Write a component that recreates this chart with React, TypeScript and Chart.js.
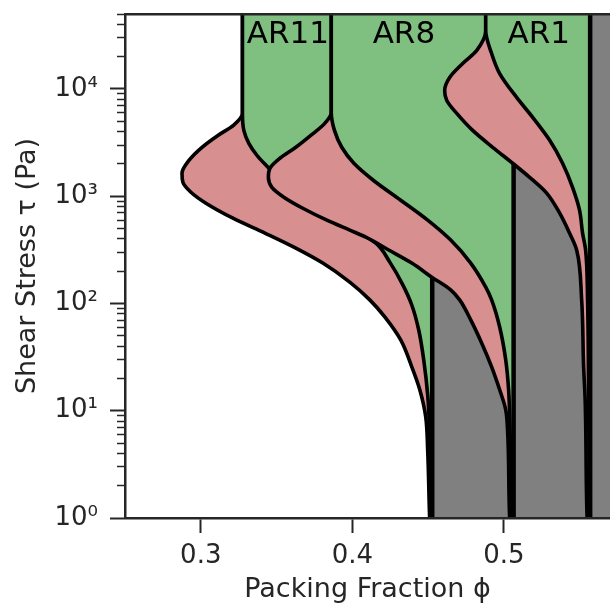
import React, { useEffect, useRef } from "react";
import { Chart, registerables } from "chart.js";

Chart.register(...registerables);

// ---- axis ranges and ticks ----
const X_MIN = 0.25;
const X_MAX = 0.57;
const Y_MIN = 1;
const Y_MAX = 5e4;
const X_TICKS = [0.3, 0.4, 0.5];
const X_TICK_LABELS = ["0.3", "0.4", "0.5"];
const Y_TICKS = [1, 10, 100, 1000, 10000];
const Y_TICK_LABELS = ["10\u2070", "10\u00b9", "10\u00b2", "10\u00b3", "10\u2074"];
const Y_MINOR_TICKS = [
  2, 3, 4, 5, 6, 7, 8, 9,
  20, 30, 40, 50, 60, 70, 80, 90,
  200, 300, 400, 500, 600, 700, 800, 900,
  2000, 3000, 4000, 5000, 6000, 7000, 8000, 9000,
  20000, 30000, 40000, 50000,
];
const X_TITLE = "Packing Fraction \u03d5";
const Y_TITLE = "Shear Stress \u03c4 (Pa)";

// ---- series names ----
const AR_NAMES = ["AR11", "AR8", "AR1"];
const AR_LABEL_PHI = [0.3575, 0.434, 0.523];
const AR_LABEL_TAU = 3.2e4;

// jamming fraction (isotropic jamming boundary) per series
const PHI_JAM = [0.4527, 0.5064, 0.5569];
const TAU_HIGH = 1e5;
const TAU_LOW = 0.3;

// lower boundary of thickening band: [phi, tau], from high to low stress
const AR11_LOWER: [number, number][] = [
  [0.3275, 1e5], [0.3275, 5900], [0.3215, 4580], [0.3113, 3690], [0.3008, 2860],
  [0.2922, 2160], [0.2876, 1640], [0.2882, 1350], [0.2935, 1090], [0.3034, 861],
  [0.3212, 624], [0.3423, 453], [0.3627, 328], [0.3805, 238], [0.3983, 158],
  [0.4115, 108], [0.4214, 74.9], [0.4319, 45.7], [0.4392, 25.7], [0.4445, 15.7],
  [0.4484, 8.8], [0.4497, 4.3], [0.451, 1.0], [0.4527, 0.3],
];
// upper boundary (shear jamming line)
const AR11_UPPER: [number, number][] = [
  [0.3275, 1e5], [0.3275, 5900], [0.3284, 4110], [0.3317, 3110], [0.337, 2410],
  [0.3443, 1860], [0.3555, 1265], [0.3687, 918], [0.3852, 665], [0.4016, 483],
  [0.4155, 365], [0.4247, 243], [0.4333, 149], [0.4392, 96.8], [0.4438, 56.6],
  [0.4471, 29.8], [0.4497, 14.1], [0.451, 6.65], [0.4517, 2.83], [0.4524, 1.0],
  [0.4527, 0.3],
];

const AR8_LOWER: [number, number][] = [
  [0.3861, 1e5], [0.3861, 6040], [0.3818, 4780], [0.3726, 3690], [0.3627, 2860],
  [0.3522, 2260], [0.3456, 1820], [0.3446, 1500], [0.3469, 1210], [0.3548, 980],
  [0.3673, 773], [0.3832, 598], [0.3983, 483], [0.4089, 416], [0.424, 315],
  [0.4392, 238], [0.4524, 176], [0.4649, 134], [0.4708, 108], [0.4781, 70.3],
  [0.4853, 42.9], [0.4919, 25.7], [0.4972, 15.7], [0.5012, 10.2], [0.5025, 6.2],
  [0.5038, 1.0], [0.5064, 0.3],
];
const AR8_UPPER: [number, number][] = [
  [0.3861, 1e5], [0.3861, 6040], [0.3882, 4110], [0.393, 2860], [0.401, 2030],
  [0.4138, 1410], [0.4319, 918], [0.4497, 598], [0.4649, 390], [0.4781, 238],
  [0.488, 142], [0.4919, 108], [0.4972, 60.4], [0.5012, 29.8], [0.5031, 15.7],
  [0.5041, 6.2], [0.5051, 1.0], [0.5064, 0.3],
];

const AR1_LOWER: [number, number][] = [
  [0.488, 1e5], [0.488, 35000], [0.482, 22800], [0.4728, 17300], [0.4642, 12800],
  [0.4609, 9680], [0.4623, 7820], [0.4689, 5920], [0.4794, 4110], [0.4926, 2860],
  [0.5058, 2030], [0.517, 1500], [0.5282, 1070], [0.5368, 695], [0.5433, 453],
  [0.548, 315], [0.5513, 108], [0.5526, 25.7], [0.5536, 12.7], [0.5549, 1.0],
  [0.5569, 0.3],
];
const AR1_UPPER: [number, number][] = [
  [0.488, 1e5], [0.488, 35000], [0.4919, 21400], [0.4972, 13900], [0.5084, 8340],
  [0.519, 5430], [0.5302, 3320], [0.5387, 2030], [0.5453, 1210], [0.5499, 741],
  [0.5519, 453], [0.5539, 315], [0.5552, 108], [0.5559, 12.7], [0.5565, 1.0],
  [0.5569, 0.3],
];

const LOWERS = [AR11_LOWER, AR8_LOWER, AR1_LOWER];
const UPPERS = [AR11_UPPER, AR8_UPPER, AR1_UPPER];

// ---- styles ----
const PINK = "rgb(216,143,143)";
const GREEN = "rgb(127,191,127)";
const GRAY = "rgb(128,128,128)";
const INK = "#262626";
const FONT_FAMILY = "'DejaVu Sans', 'Liberation Sans', sans-serif";

const toPts = (arr: [number, number][]) => arr.map(([x, y]) => ({ x, y }));

function buildDatasets() {
  const seq: any[] = [];
  LOWERS.forEach((lower, k) => {
    const base = k * 3;
    const common = {
      xAxisID: "x",
      yAxisID: "y",
      pointRadius: 0,
      pointHoverRadius: 0,
      borderColor: "#000",
      clip: 0,
      cubicInterpolationMode: "monotone",
    };
    // thickening band: lower curve filled up to upper curve
    seq.push({
      ...common,
      label: AR_NAMES[k] + " lower",
      data: toPts(lower),
      backgroundColor: PINK,
      borderWidth: 3.6,
      fill: { target: base + 1 },
    });
    // shear jammed: upper curve filled to jamming line
    seq.push({
      ...common,
      label: AR_NAMES[k] + " upper",
      data: toPts(UPPERS[k]),
      backgroundColor: GREEN,
      borderWidth: 3.6,
      fill: { target: base + 2 },
    });
    // isotropically jammed: beyond jamming fraction
    seq.push({
      ...common,
      cubicInterpolationMode: "default",
      tension: 0,
      label: AR_NAMES[k] + " jam",
      data: [
        { x: PHI_JAM[k], y: TAU_HIGH },
        { x: PHI_JAM[k], y: TAU_LOW },
      ],
      backgroundColor: GRAY,
      borderWidth: 4.5,
      fill: { value: X_MAX },
    });
  });
  const n = seq.length;
  return seq.map((d, i) => ({ ...d, order: n - i }));
}

const arLabelPlugin = {
  id: "arLabels",
  afterDatasetsDraw(chart: any) {
    const { ctx, scales } = chart;
    const x = scales.x;
    const y = scales.y;
    ctx.save();
    ctx.font = `31px ${FONT_FAMILY}`;
    ctx.fillStyle = "#000";
    ctx.textAlign = "center";
    ctx.textBaseline = "middle";
    AR_NAMES.forEach((name, i) => {
      ctx.fillText(name, x.getPixelForValue(AR_LABEL_PHI[i]), y.getPixelForValue(AR_LABEL_TAU));
    });
    ctx.restore();
  },
};

export default function App() {
  const ref = useRef<HTMLCanvasElement>(null);
  useEffect(() => {
    if (!ref.current) return;
    Chart.defaults.font.family = FONT_FAMILY;
    const tickFont = { family: FONT_FAMILY, size: 26 };
    const titleFont = { family: FONT_FAMILY, size: 27 };
    const chart = new Chart(ref.current, {
      type: "line",
      data: { datasets: buildDatasets() as any },
      plugins: [arLabelPlugin],
      options: {
        animation: false,
        responsive: true,
        maintainAspectRatio: false,
        indexAxis: "y",
        events: [],
        layout: { padding: { top: 14, left: 0, right: 0, bottom: 0 } },
        plugins: {
          legend: { display: false },
          tooltip: { enabled: false },
          filler: { drawTime: "beforeDatasetDraw", propagate: false },
        },
        scales: {
          x: {
            type: "linear",
            position: "bottom",
            min: X_MIN,
            max: X_MAX,
            afterBuildTicks: (s: any) => {
              s.ticks = X_TICKS.map((v) => ({ value: v }));
            },
            afterFit: (s: any) => {
              s.height = 88;
              s.paddingLeft = 0;
              s.paddingRight = 0;
            },
            ticks: {
              callback: (_v: any, i: number) => X_TICK_LABELS[i],
              font: tickFont,
              color: INK,
              padding: 8,
              maxRotation: 0,
              autoSkip: false,
            },
            grid: {
              drawOnChartArea: false,
              drawTicks: true,
              tickLength: 15,
              tickWidth: 2,
              tickColor: INK,
            },
            border: { display: true, width: 2.5, color: INK, z: 1 },
            title: {
              display: true,
              text: X_TITLE,
              font: titleFont,
              color: INK,
              padding: { top: 0, bottom: 0 },
            },
          },
          xTop: {
            type: "linear",
            position: "top",
            min: X_MIN,
            max: X_MAX,
            afterFit: (s: any) => {
              s.height = 0;
              s.paddingLeft = 0;
              s.paddingRight = 0;
            },
            ticks: { display: false },
            grid: { display: false, drawTicks: false },
            border: { display: true, width: 2.5, color: INK, z: 1 },
          },
          y: {
            type: "logarithmic",
            position: "left",
            weight: 2,
            min: Y_MIN,
            max: Y_MAX,
            afterBuildTicks: (s: any) => {
              s.ticks = Y_TICKS.map((v) => ({ value: v, major: true }));
            },
            afterFit: (s: any) => {
              s.width = 125;
              s.paddingTop = 0;
              s.paddingBottom = 0;
            },
            ticks: {
              callback: (_v: any, i: number) => Y_TICK_LABELS[i],
              font: tickFont,
              color: INK,
              padding: 12,
              autoSkip: false,
            },
            grid: {
              drawOnChartArea: false,
              drawTicks: true,
              tickLength: 15,
              tickWidth: 2,
              tickColor: INK,
            },
            border: { display: true, width: 2.5, color: INK, z: 1 },
            title: {
              display: true,
              text: Y_TITLE,
              font: titleFont,
              color: INK,
              padding: { top: 12, bottom: 0 },
            },
          },
          yMinor: {
            type: "logarithmic",
            position: "left",
            weight: 1,
            min: Y_MIN,
            max: Y_MAX,
            afterBuildTicks: (s: any) => {
              s.ticks = Y_MINOR_TICKS.map((v) => ({ value: v }));
            },
            afterFit: (s: any) => {
              s.width = 0;
              s.paddingTop = 0;
              s.paddingBottom = 0;
            },
            ticks: { display: false },
            grid: {
              drawOnChartArea: false,
              drawTicks: true,
              tickLength: 8,
              tickWidth: 1.5,
              tickColor: INK,
            },
            border: { display: false },
          },
        },
      } as any,
    });
    return () => chart.destroy();
  }, []);
  return (
    <div style={{ position: "fixed", left: 0, top: 0, width: 610, height: 606, background: "#fff" }}>
      <canvas ref={ref} />
    </div>
  );
}
